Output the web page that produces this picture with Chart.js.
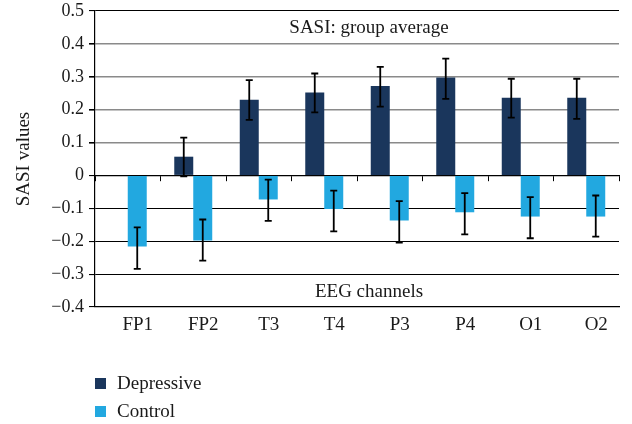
<!DOCTYPE html>
<html>
<head>
<meta charset="utf-8">
<script src="https://cdn.jsdelivr.net/npm/chart.js@4"></script>
<style>
html,body{margin:0;padding:0;background:#fff;}
#wrap{width:632px;height:424px;position:relative;}
</style>
</head>
<body>
<div id="wrap"><canvas id="c" width="632" height="424"></canvas></div>
<script>
const channels = ["FP1","FP2","T3","T4","P3","P4","O1","O2"];
const depressive = [0, 0.057, 0.230, 0.252, 0.272, 0.298, 0.236, 0.236];
const depressiveHigh = [null, 0.115, 0.290, 0.310, 0.330, 0.355, 0.294, 0.294];
const depressiveLow  = [null, -0.003, 0.169, 0.192, 0.209, 0.233, 0.176, 0.172];
const control = [-0.216, -0.198, -0.073, -0.102, -0.137, -0.112, -0.125, -0.125];
const controlHigh = [-0.158, -0.134, -0.013, -0.046, -0.078, -0.054, -0.066, -0.061];
const controlLow  = [-0.284, -0.259, -0.138, -0.170, -0.204, -0.179, -0.191, -0.186];
const yTicks = [-0.4,-0.3,-0.2,-0.1,0,0.1,0.2,0.3,0.4,0.5];
const seriesNames = ["Depressive","Control"];
const seriesColors = ["#1a365c","#22a8e0"];
const topNote = "SASI: group average";
const bottomNote = "EEG channels";
const yTitle = "SASI values";

const FONT = "'Liberation Serif', 'Times New Roman', serif";

const errorBars = {
  id: 'errorBars',
  afterDatasetsDraw(chart) {
    const ctx = chart.ctx, ys = chart.scales.y;
    chart.data.datasets.forEach((ds, di) => {
      const meta = chart.getDatasetMeta(di);
      meta.data.forEach((bar, i) => {
        const hi = ds.errHigh[i], lo = ds.errLow[i];
        if (hi == null || lo == null) return;
        const x = bar.x, y1 = ys.getPixelForValue(hi), y2 = ys.getPixelForValue(lo);
        ctx.save();
        ctx.strokeStyle = '#000';
        ctx.lineWidth = 1.8;
        ctx.beginPath();
        ctx.moveTo(x, y1); ctx.lineTo(x, y2);
        ctx.moveTo(x - 3.5, y1); ctx.lineTo(x + 3.5, y1);
        ctx.moveTo(x - 3.5, y2); ctx.lineTo(x + 3.5, y2);
        ctx.stroke();
        ctx.restore();
      });
    });
  }
};

const notes = {
  id: 'notes',
  afterDraw(chart) {
    const ctx = chart.ctx, a = chart.chartArea, ys = chart.scales.y;
    ctx.save();
    ctx.fillStyle = '#1a1a1a';
    ctx.font = "19px " + FONT;
    ctx.textAlign = 'center';
    ctx.textBaseline = 'middle';
    const cx = (a.left + a.right) / 2 + 12;
    ctx.fillText(topNote, cx, (ys.getPixelForValue(0.5) + ys.getPixelForValue(0.4)) / 2 + 1);
    ctx.fillText(bottomNote, cx, (ys.getPixelForValue(-0.3) + ys.getPixelForValue(-0.4)) / 2 + 1);
    // legend
    ctx.textAlign = 'left';
    chart.data.datasets.forEach((ds, i) => {
      const yc = 383.5 + i * 28;
      ctx.fillStyle = ds.backgroundColor;
      ctx.fillRect(a.left, yc - 5.5, 11, 11);
      ctx.fillStyle = '#1a1a1a';
      ctx.fillText(ds.label, a.left + 22, yc + 1);
    });
    ctx.restore();
  }
};

new Chart(document.getElementById('c'), {
  type: 'bar',
  data: {
    labels: channels,
    datasets: [
      { label: seriesNames[0], data: depressive, errHigh: depressiveHigh, errLow: depressiveLow, backgroundColor: seriesColors[0] },
      { label: seriesNames[1], data: control, errHigh: controlHigh, errLow: controlLow, backgroundColor: seriesColors[1] }
    ]
  },
  options: {
    responsive: false,
    animation: false,
    devicePixelRatio: 1,
    categoryPercentage: 0.58,
    barPercentage: 1,
    layout: { padding: { left: 13, right: 13, top: 11, bottom: 77 } },
    plugins: { legend: { display: false }, tooltip: { enabled: false } },
    scales: {
      x: {
        grid: { display: false, drawTicks: false },
        border: { display: true, color: '#000', width: 1.2 },
        ticks: { color: '#1a1a1a', font: { family: FONT, size: 19 }, padding: 7, labelOffset: 10 },
        afterFit(s) { s.height = 40; s.paddingLeft = 0; s.paddingRight = 0; }
      },
      x2: {
        type: 'category',
        labels: channels,
        position: { y: 0 },
        offset: true,
        grid: { drawOnChartArea: false, drawTicks: true, tickLength: 5, offset: true, color: '#000', lineWidth: 1 },
        border: { display: true, color: '#000', width: 1.2 },
        ticks: { display: false }
      },
      y: {
        min: -0.4, max: 0.5,
        afterBuildTicks(s) { s.ticks = yTicks.map(v => ({ value: v })); },
        ticks: {
          color: '#1a1a1a', font: { family: FONT, size: 18 }, padding: 5,
          callback: v => (v < 0 ? '\u2212' + Math.abs(v).toFixed(1) : (v === 0 ? '0' : v.toFixed(1)))
        },
        grid: {
          color: c => (c.tick && c.tick.value > 0.05 && c.tick.value < 0.45) ? '#8a8a8a' : '#000',
          lineWidth: c => (c.tick && c.tick.value > 0.05 && c.tick.value < 0.45) ? 1.6 : 1.1,
          tickColor: '#000', tickLength: 6
        },
        border: { display: true, color: '#000', width: 1.2 },
        title: { display: true, text: yTitle, color: '#1a1a1a', font: { family: FONT, size: 19 }, padding: { top: 0, bottom: 0 } },
        afterFit(s) { s.width = 82; s.paddingTop = 0; s.paddingBottom = 0; }
      }
    }
  },
  plugins: [errorBars, notes]
});
</script>
</body>
</html>
